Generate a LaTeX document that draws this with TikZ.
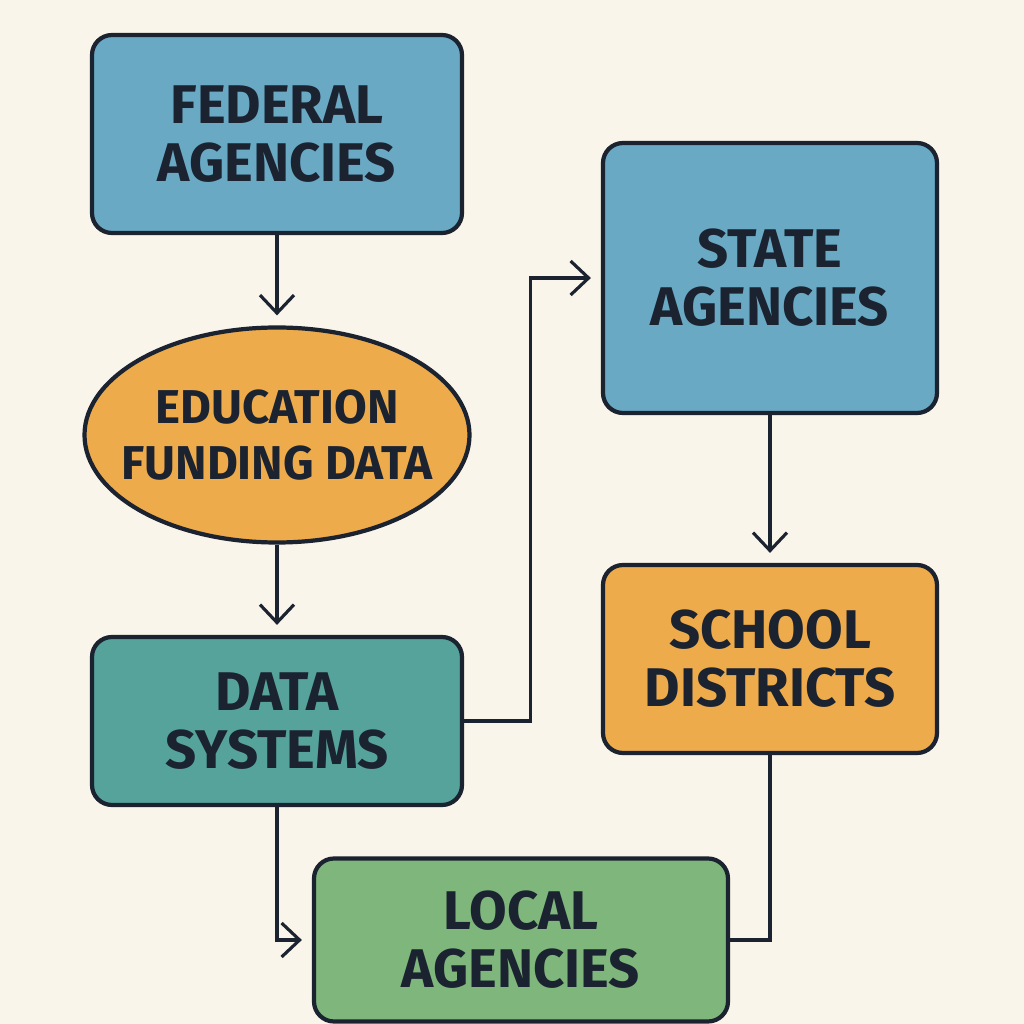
\documentclass[tikz,border=0pt]{standalone}
\usepackage{fontspec}
\setmainfont{Fira Sans}
\usepackage{xcolor}
\usetikzlibrary{arrows.meta,shapes.geometric}

\definecolor{bgcream}{HTML}{FAF5EA}
\definecolor{inkdark}{HTML}{1B2230}
\definecolor{agencyblue}{HTML}{69A9C4}
\definecolor{fundorange}{HTML}{EDAB4B}
\definecolor{systeal}{HTML}{56A39C}
\definecolor{localgreen}{HTML}{7EB67C}

\begin{document}
\begin{tikzpicture}[
  box/.style={draw=inkdark, line width=1.2pt, rounded corners=0.2cm, align=center,
    font=\fontsize{15.5}{16.5}\selectfont\bfseries, text=inkdark, inner sep=0pt},
  blob/.style={ellipse, draw=inkdark, line width=1.2pt, align=center,
    font=\fontsize{13.5}{16}\selectfont\bfseries, text=inkdark, inner sep=-4mm},
  arr/.style={draw=inkdark, line width=0.9pt, -{Straight Barb[length=1.8mm,width=3.4mm]}, shorten >=1mm},
  link/.style={draw=inkdark, line width=0.9pt}
]
% Background
\fill[bgcream] (0,0) rectangle (10.24,10.24);
\useasboundingbox (0,0) rectangle (10.24,10.24);

% Left column
\node[box, fill=agencyblue, minimum width=3.70cm, minimum height=1.98cm] (fed) at (2.77,8.90) {FEDERAL\\AGENCIES};
\node[blob, fill=fundorange, minimum width=3.85cm, minimum height=2.15cm] (edu) at (2.77,5.89) {EDUCATION\\FUNDING DATA};
\node[box, fill=systeal, minimum width=3.70cm, minimum height=1.68cm] (datasys) at (2.77,3.03) {DATA\\SYSTEMS};

% Right column
\node[box, fill=agencyblue, minimum width=3.34cm, minimum height=2.70cm] (state) at (7.70,7.46) {STATE\\AGENCIES};
\node[box, fill=fundorange, minimum width=3.34cm, minimum height=1.88cm] (school) at (7.70,3.65) {SCHOOL\\DISTRICTS};

% Bottom
\node[box, fill=localgreen, minimum width=4.14cm, minimum height=1.63cm] (local) at (5.21,0.84) {LOCAL\\AGENCIES};

% Connectors
\draw[arr] (fed) -- (edu);
\draw[arr] (edu) -- (datasys);
\draw[arr] (datasys.east) -- ++(0.66,0) |- (state.west);
\draw[arr] (state) -- (school);
\draw[arr] (datasys.south) |- (local.west);
\draw[link] (school.south) |- (local.east);
\end{tikzpicture}
\end{document}
